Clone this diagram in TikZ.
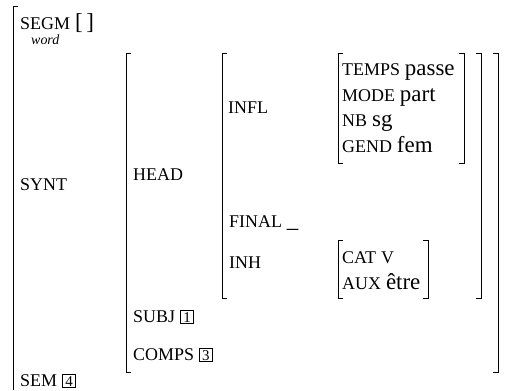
\documentclass[tikz,border=0pt]{standalone}
\usepackage{fontspec}
\setmainfont{Liberation Serif}
\newcommand{\ftr}[1]{{\fontsize{18}{18}\selectfont #1}}
\newcommand{\val}[1]{{\fontsize{23}{23}\selectfont #1}}
\newcommand{\tagbox}[1]{{\fontsize{15}{15}\selectfont\setlength{\fboxsep}{1.2pt}\setlength{\fboxrule}{0.8pt}\fbox{\makebox[10pt]{#1}}}}
\begin{document}
\begin{tikzpicture}[x=1bp,y=-1bp,
    brak/.style={line width=0.9bp},
    lbl/.style={anchor=base west,inner sep=0pt,font=\fontsize{20}{20}\selectfont}]
\useasboundingbox (0,0) rectangle (507,390);
% brackets
\draw[brak] (18,6) -- (13,6) -- (13,390);
\draw[brak] (131,53) -- (126,53) -- (126,372) -- (131,372);
\draw[brak] (493,53) -- (498,53) -- (498,372) -- (493,372);
\draw[brak] (227,53) -- (222,53) -- (222,298) -- (227,298);
\draw[brak] (476,53) -- (481,53) -- (481,298) -- (476,298);
\draw[brak] (343,53) -- (338,53) -- (338,163) -- (343,163);
\draw[brak] (459,53) -- (464,53) -- (464,163) -- (459,163);
\draw[brak] (343,240) -- (338,240) -- (338,298) -- (343,298);
\draw[brak] (423,240) -- (428,240) -- (428,298) -- (423,298);
% level 1
\node[lbl] (segm) at (20,29) {\ftr{SEGM} \val{[\,]}};
\node[lbl] (word) at (31,44) {\fontsize{14}{14}\selectfont\itshape word};
\node[lbl] (synt) at (20,190) {\ftr{SYNT}};
\node[lbl] (sem) at (20,386) {\ftr{SEM} \tagbox{4}};
% level 2
\node[lbl] (head) at (133,180) {\ftr{HEAD}};
\node[lbl] (subj) at (133,322) {\ftr{SUBJ} \tagbox{1}};
\node[lbl] (comps) at (133,360) {\ftr{COMPS} \tagbox{3}};
% level 3
\node[lbl] (infl) at (228,113) {\ftr{INFL}};
\node[lbl] (final) at (229,227) {\ftr{FINAL} \val{\_}};
\node[lbl] (inh) at (229,268) {\ftr{INH}};
% values
\node[lbl] (temps) at (342,75) {\ftr{TEMPS} \val{passe}};
\node[lbl] (mode) at (342,101) {\ftr{MODE} \val{part}};
\node[lbl] (nb) at (342,126) {\ftr{NB} \val{sg}};
\node[lbl] (gend) at (342,152) {\ftr{GEND} \val{fem}};
\node[lbl] (cat) at (342,263) {\ftr{CAT} \ftr{V}};
\node[lbl] (aux) at (342,289) {\ftr{AUX} \val{être}};
\end{tikzpicture}
\end{document}
